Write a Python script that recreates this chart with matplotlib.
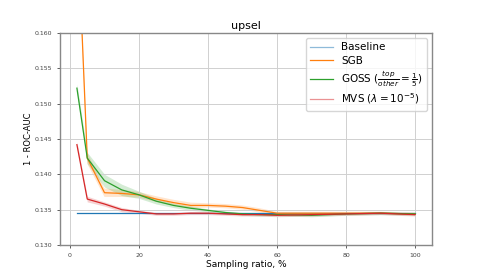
import matplotlib
matplotlib.use("Agg")
import matplotlib.pyplot as plt

# Sampling ratios (%)
ratios = [2, 5, 10, 15, 20, 25, 30, 35, 40, 45, 50, 55, 60, 70, 80, 90, 100]

baseline = [0.1345] * len(ratios)
sgb = [0.1775, 0.1423, 0.1374, 0.1373, 0.1371, 0.1365, 0.1360, 0.1356, 0.1356,
       0.1355, 0.1353, 0.1349, 0.1345, 0.1345, 0.1345, 0.1345, 0.1344]
sgb_err = [0.0020, 0.0008, 0.0006, 0.0005, 0.0004, 0.0004, 0.0004, 0.0004, 0.0003,
           0.0003, 0.0003, 0.0003, 0.0002, 0.0002, 0.0002, 0.0002, 0.0002]
goss = [0.1522, 0.1423, 0.1391, 0.1378, 0.1371, 0.1362, 0.1356, 0.1352, 0.1349,
        0.1346, 0.1344, 0.1343, 0.1343, 0.1342, 0.1344, 0.1345, 0.1344]
goss_err = [0.0006, 0.0008, 0.0009, 0.0008, 0.0005, 0.0004, 0.0003, 0.0003, 0.0002,
            0.0002, 0.0002, 0.0002, 0.0002, 0.0002, 0.0002, 0.0002, 0.0002]
mvs = [0.1442, 0.1365, 0.1358, 0.1350, 0.1347, 0.1344, 0.1344, 0.1345, 0.1345,
       0.1344, 0.1343, 0.1343, 0.1342, 0.1343, 0.1344, 0.1345, 0.1343]
mvs_err = [0.0004, 0.0004, 0.0003, 0.0003, 0.0002, 0.0002, 0.0002, 0.0002, 0.0002,
           0.0002, 0.0002, 0.0002, 0.0002, 0.0002, 0.0002, 0.0002, 0.0002]

fig = plt.figure(figsize=(4.8, 2.8), dpi=100)
ax = fig.add_axes([0.125, 0.125, 0.775, 0.757])

ax.plot(ratios, baseline, color='tab:blue', lw=0.9, label='Baseline')

series = [
    (sgb, sgb_err, 'tab:orange', 'SGB'),
    (goss, goss_err, 'tab:green', r'GOSS ($\frac{top}{other} = \frac{1}{5}$)'),
    (mvs, mvs_err, 'tab:red', r'MVS ($\lambda = 10^{-5}$)'),
]
for vals, err, col, lab in series:
    lo = [v - e for v, e in zip(vals, err)]
    hi = [v + e for v, e in zip(vals, err)]
    ax.fill_between(ratios, lo, hi, color=col, alpha=0.2, lw=0)
    ax.plot(ratios, vals, color=col, lw=0.9, label=lab)

ax.set_ylim(0.130, 0.160)
ax.set_xticks([0, 20, 40, 60, 80, 100])
ax.set_yticks([0.130, 0.135, 0.140, 0.145, 0.150, 0.155, 0.160])
ax.tick_params(labelsize=4.5, colors='#444444', length=2, width=0.6)
ax.grid(True, color='#d0d0d0', lw=0.7)
for s in ax.spines.values():
    s.set_color('#888888')
    s.set_linewidth(1.0)

ax.set_title('upsel', fontsize=8, pad=3)
ax.set_xlabel('Sampling ratio, %', fontsize=6.5, labelpad=2)
ax.set_ylabel('1 - ROC-AUC', fontsize=6, labelpad=1)

leg = ax.legend(loc='upper right', fontsize=7.5, handlelength=2.2, borderpad=0.4,
                labelspacing=0.3)
leg.legend_handles[0].set_alpha(0.5)
leg.legend_handles[3].set_alpha(0.5)

fig.savefig('out.png', dpi=100)
